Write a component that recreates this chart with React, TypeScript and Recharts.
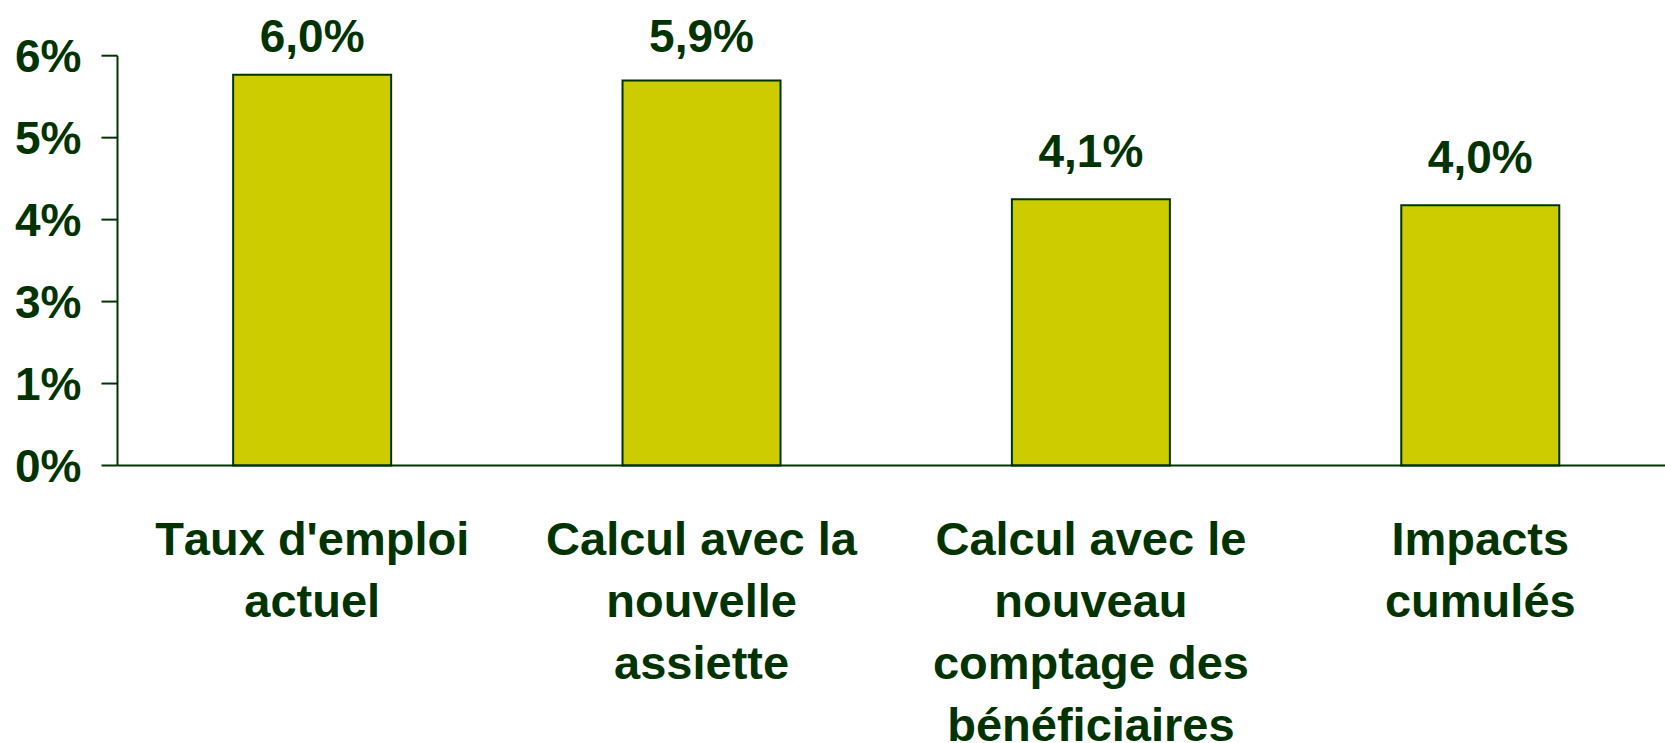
import React from "react";
import { BarChart, Bar, XAxis, YAxis, LabelList } from "recharts";

const categories = [
  "Taux d'emploi\nactuel",
  "Calcul avec la\nnouvelle\nassiette",
  "Calcul avec le\nnouveau\ncomptage des\nbénéficiaires",
  "Impacts\ncumulés",
];
const values = [5.96, 5.87, 4.06, 3.97];
const yTicks = [0, 1.25, 2.5, 3.75, 5, 6.25];

const data = categories.map((name, i) => ({ name, value: values[i] }));

const GREEN = "#003300";
const FONT = "'Liberation Sans', Arial, sans-serif";

const YTick = (props: any) => {
  const { x, y, payload } = props;
  return (
    <text
      x={x}
      y={y}
      dy="0.36em"
      textAnchor="end"
      fill={GREEN}
      fontFamily={FONT}
      fontWeight="bold"
      fontSize={46}
    >
      {Math.round(payload.value) + "%"}
    </text>
  );
};

const XTick = (props: any) => {
  const { x, y, payload } = props;
  const lines = String(payload.value).split("\n");
  return (
    <text
      x={x}
      y={y}
      textAnchor="middle"
      fill={GREEN}
      fontFamily={FONT}
      fontWeight="bold"
      fontSize={47}
      style={{ fontKerning: "none" }}
    >
      {lines.map((l, i) => (
        <tspan key={i} x={x} y={y + 89.5 + i * 62}>
          {l}
        </tspan>
      ))}
    </text>
  );
};

const ValueLabel = (props: any) => {
  const { x, y, width, value } = props;
  const baseline = Math.max(y - 32, 52.2);
  return (
    <text
      x={x + width / 2}
      y={baseline}
      textAnchor="middle"
      fill={GREEN}
      fontFamily={FONT}
      fontWeight="bold"
      fontSize={46}
      style={{ fontKerning: "none" }}
    >
      {Number(value).toFixed(1).replace(".", ",") + "%"}
    </text>
  );
};

export default function App() {
  return (
    <div
      style={{
        position: "fixed",
        left: 0,
        top: 0,
        width: 1665,
        height: 743,
        overflow: "hidden",
        background: "#ffffff",
      }}
    >
      <BarChart
        width={1675}
        height={743}
        data={data}
        margin={{ top: 55.7, right: 0, left: 0, bottom: 0 }}
        barCategoryGap="29.7%"
      >
        <XAxis
          dataKey="name"
          height={277.5}
          interval={0}
          tickLine={false}
          tickSize={0}
          tickMargin={0}
          axisLine={{ stroke: GREEN, strokeWidth: 2 }}
          tick={<XTick />}
        />
        <YAxis
          width={117.5}
          domain={[0, 6.25]}
          ticks={yTicks}
          interval={0}
          tickSize={16}
          tickMargin={20}
          axisLine={{ stroke: GREEN, strokeWidth: 2 }}
          tickLine={{ stroke: GREEN, strokeWidth: 2 }}
          tick={<YTick />}
        />
        <Bar
          dataKey="value"
          fill="#CCCC00"
          stroke={GREEN}
          strokeWidth={2}
          isAnimationActive={false}
        >
          <LabelList dataKey="value" content={<ValueLabel />} />
        </Bar>
      </BarChart>
    </div>
  );
}
